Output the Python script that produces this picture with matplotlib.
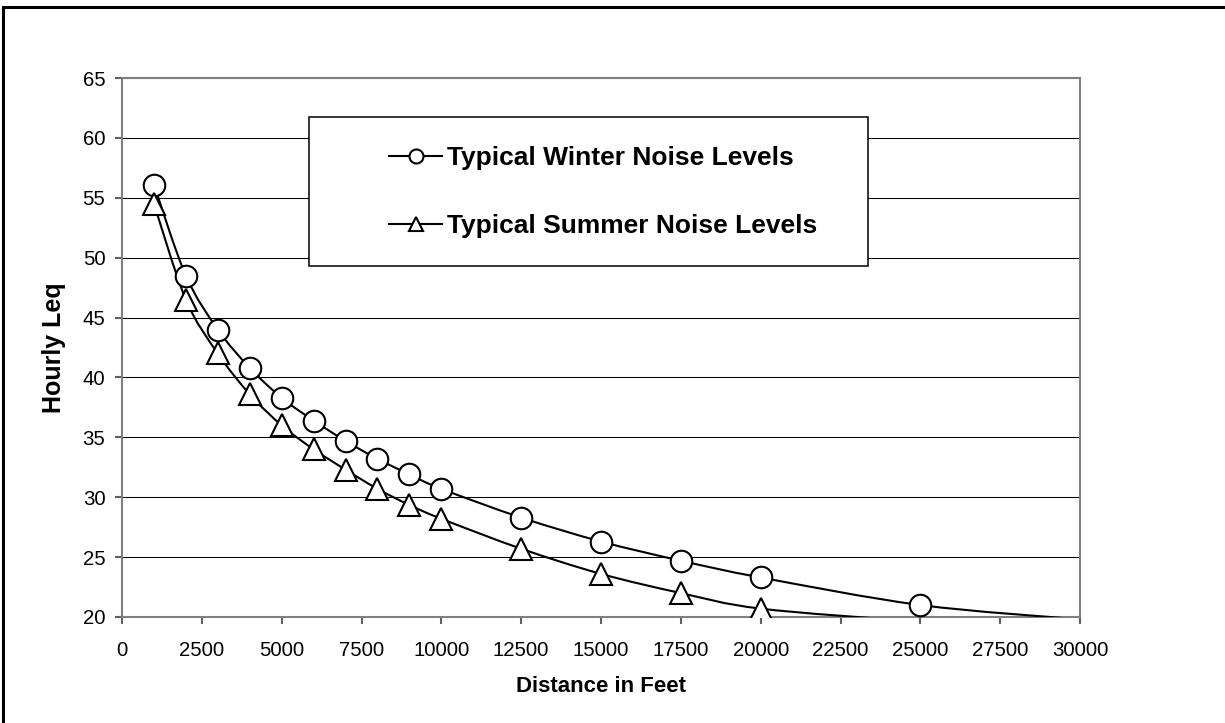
import numpy as np
import matplotlib
matplotlib.use("Agg")
import matplotlib.pyplot as plt
from matplotlib.lines import Line2D
from matplotlib.patches import Rectangle, PathPatch
from matplotlib.path import Path

plt.rcParams['font.family'] = ['Liberation Sans', 'DejaVu Sans']

# measured hourly Leq against distance (last values fall below the axis)
winter_x = [1000, 2000, 3000, 4000, 5000, 6000, 7000, 8000, 9000, 10000,
            12500, 15000, 17500, 20000, 25000, 30000]
winter_y = [56.1, 48.5, 44.0, 40.8, 38.3, 36.4, 34.7, 33.2, 31.9, 30.7,
            28.3, 26.3, 24.7, 23.3, 21.0, 19.8]
summer_x = [1000, 2000, 3000, 4000, 5000, 6000, 7000, 8000, 9000, 10000,
            12500, 15000, 17500, 20000, 25000, 30000]
summer_y = [54.5, 46.5, 42.0, 38.6, 36.0, 34.0, 32.3, 30.7, 29.35, 28.2,
            25.7, 23.6, 22.0, 20.7, 19.6, 18.6]
labels = ["Typical Winter Noise Levels", "Typical Summer Noise Levels"]


def smooth_path(x, y):
    # spreadsheet-style smoothed line: cubic Bezier through every point
    p = np.column_stack([x, y]).astype(float)
    n = len(p)
    verts, codes = [p[0]], [Path.MOVETO]
    for i in range(n - 1):
        p0 = p[i - 1] if i > 0 else p[i]
        p3 = p[i + 2] if i + 2 < n else p[i + 1]
        verts += [p[i] + (p[i + 1] - p0) / 6, p[i + 1] - (p3 - p[i]) / 6, p[i + 1]]
        codes += [Path.CURVE4] * 3
    return Path(verts, codes)


W, H = 1225, 723
fig = plt.figure(figsize=(W / 100, H / 100), dpi=100)
ax = fig.add_axes([122 / W, 1 - 617 / H, (1080 - 122) / W, (617 - 78) / H])

ymin, ymax = 20, 65
handles = []
for x, y, mk, ms in [(winter_x, winter_y, 'o', 15.5), (summer_x, summer_y, '^', 16)]:
    ax.add_patch(PathPatch(smooth_path(x, y), fill=False, edgecolor='black',
                           lw=1.5, zorder=3))
    x, y = np.array(x), np.array(y)
    shown = y >= ymin
    ax.plot(x[shown], y[shown], ls='none', marker=mk, ms=ms, mfc='white',
            mec='black', mew=1.5, zorder=4)
    handles.append(Line2D([], [], color='black', lw=1.5, marker=mk, ms=ms,
                          mfc='white', mec='black', mew=1.5))

ax.set_xlim(0, 30000)
ax.set_ylim(ymin, ymax)
ax.set_xticks(np.arange(0, 30001, 2500))
ax.set_yticks(np.arange(20, 66, 5))
ax.yaxis.grid(True, color='black', lw=0.75)
ax.set_axisbelow(True)
for s in ax.spines.values():
    s.set_color('#808080')
    s.set_linewidth(1.5)
ax.tick_params(direction='out', length=5, width=1.5, color='#606060',
               labelsize=14.7)
ax.tick_params(axis='y', pad=7)
ax.tick_params(axis='x', pad=12)

ax.set_xlabel("Distance in Feet", fontsize=16, fontweight='bold', labelpad=12)
ax.set_ylabel("Hourly Leq", fontsize=18, fontweight='bold', labelpad=12)

# legend box
fig.add_artist(Rectangle((309 / W, 1 - 266 / H), (868 - 309) / W, 149 / H,
                         transform=fig.transFigure, facecolor='white',
                         edgecolor='black', lw=1.1, zorder=2))
fig.legend(handles, labels, loc='center left',
           bbox_to_anchor=(376 / W, 1 - 192 / H), frameon=False,
           prop={'weight': 'bold', 'size': 19}, borderpad=0,
           handlelength=2.0, handletextpad=0.2, labelspacing=1.65,
           markerscale=0.65).set_zorder(5)

# chart border
fig.add_artist(Line2D([2.5 / W, 2.5 / W], [0, 1 - 6.5 / H], color='black', lw=2.2))
fig.add_artist(Line2D([2.5 / W, 1], [1 - 6.5 / H, 1 - 6.5 / H], color='black', lw=2.2))

fig.savefig("out.png", dpi=100)
